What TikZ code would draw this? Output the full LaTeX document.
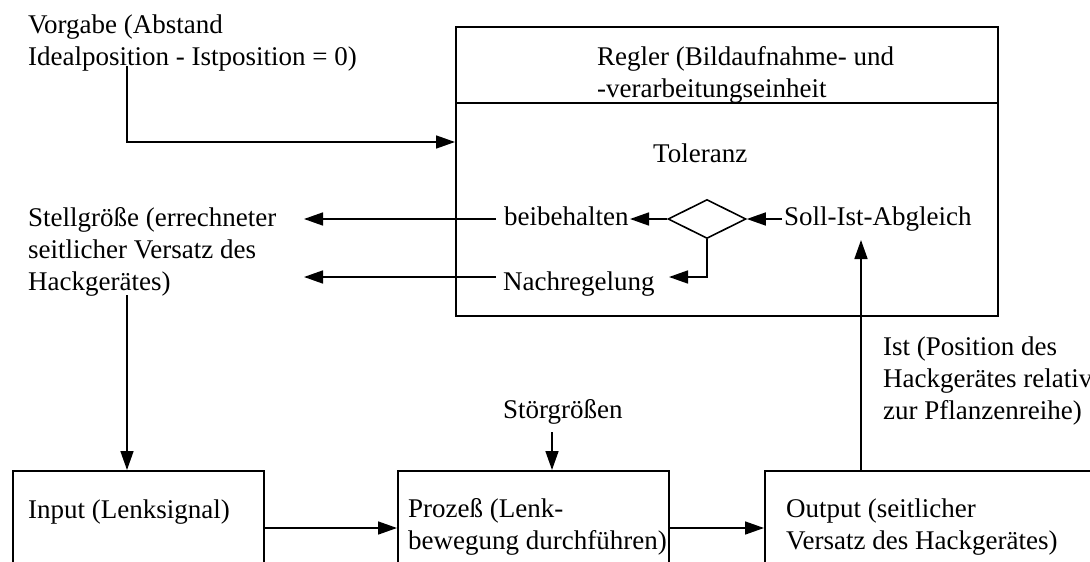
\documentclass[tikz,border=0pt]{standalone}
\usepackage{fontspec}
\setmainfont{Liberation Serif}
\usetikzlibrary{shapes.geometric,arrows.meta}
\tikzset{
  lbl/.style={inner sep=0pt, anchor=base west, align=left, font=\fontsize{27}{32}\selectfont},
  boxx/.style={draw, line width=1.6pt, inner sep=0pt},
  conn/.style={line width=1.6pt},
  arr/.style={line width=1.6pt, -{Triangle[length=19pt,width=13pt]}},
}
\begin{document}
\begin{tikzpicture}[x=1pt,y=-1pt]
\useasboundingbox (0,0) rectangle (1090,562);
\clip (0,0) rectangle (1090,562);
\fill[white] (0,0) rectangle (1090,562);
% Regler box
\node[boxx, minimum width=542pt, minimum height=289pt, anchor=north west] (regler) at (455,26) {};
\coordinate (divL) at (455,103);
\coordinate (divR) at (997,103);
\draw[conn] (divL) -- (divR);
% bottom boxes
\node[boxx, minimum width=251pt, minimum height=140pt, anchor=north west] (inp) at (12,470) {};
\node[boxx, minimum width=271pt, minimum height=140pt, anchor=north west] (proz) at (397,470) {};
\node[boxx, minimum width=360pt, minimum height=140pt, anchor=north west] (outp) at (764,470) {};
% texts (base = baseline of last line)
\node[lbl] (vorgabe) at (28,65) {Vorgabe (Abstand\\Idealposition - Istposition = 0)};
\node[lbl] (reglertxt) at (597,97) {Regler (Bildaufnahme- und\\-verarbeitungseinheit};
\node[lbl] (toleranz) at (653,162) {Toleranz};
\node[lbl] (beib) at (504,225) {beibehalten};
\node[lbl] (nachr) at (503,290) {Nachregelung};
\node[lbl] (soll) at (784,225) {Soll-Ist-Abgleich};
\node[lbl] (stell) at (28,290) {Stellgröße (errechneter\\seitlicher Versatz des\\Hackgerätes)};
\node[lbl] (ist) at (883,419) {Ist (Position des\\Hackgerätes relativ\\zur Pflanzenreihe)};
\node[lbl] (stoer) at (503,418) {Störgrößen};
\node[lbl] (inptxt) at (28,518) {Input (Lenksignal)};
\node[lbl] (proztxt) at (408,549) {Prozeß (Lenk-\\bewegung durchführen)};
\node[lbl] (outtxt) at (786,549) {Output (seitlicher\\Versatz des Hackgerätes)};
% diamond
\node[draw, diamond, line width=1.6pt, inner sep=0pt, aspect=2, minimum width=78pt, minimum height=39pt] (dia) at (707,219) {};
% coordinates
\coordinate (vg) at (127,66);
\coordinate (vgin) at (455,142);
\coordinate (b1) at (496,219);
\coordinate (s1) at (304,219);
\coordinate (b2) at (496,277);
\coordinate (s2) at (304,277);
\coordinate (beibend) at (630,219);
\coordinate (sollst) at (782,219);
\coordinate (nachend) at (669,277);
\coordinate (istbot) at (861,470);
\coordinate (isttop) at (861,240);
\coordinate (stb) at (127,295);
\coordinate (inpt) at (127,470);
\coordinate (sgtop) at (552,432);
\coordinate (sgbot) at (552,470);
\coordinate (ip1) at (263,528);
\coordinate (ip2) at (397,528);
\coordinate (po1) at (668,528);
\coordinate (po2) at (764,528);
% connectors
\draw[arr] (vg) |- (vgin);
\draw[arr] (b1) -- (s1);
\draw[arr] (b2) -- (s2);
\draw[arr] (dia.west) -- (beibend);
\draw[arr] (sollst) -- (dia.east);
\draw[arr] (dia.south) |- (nachend);
\draw[arr] (istbot) -- (isttop);
\draw[arr] (stb) -- (inpt);
\draw[arr] (sgtop) -- (sgbot);
\draw[arr] (ip1) -- (ip2);
\draw[arr] (po1) -- (po2);
\end{tikzpicture}
\end{document}
